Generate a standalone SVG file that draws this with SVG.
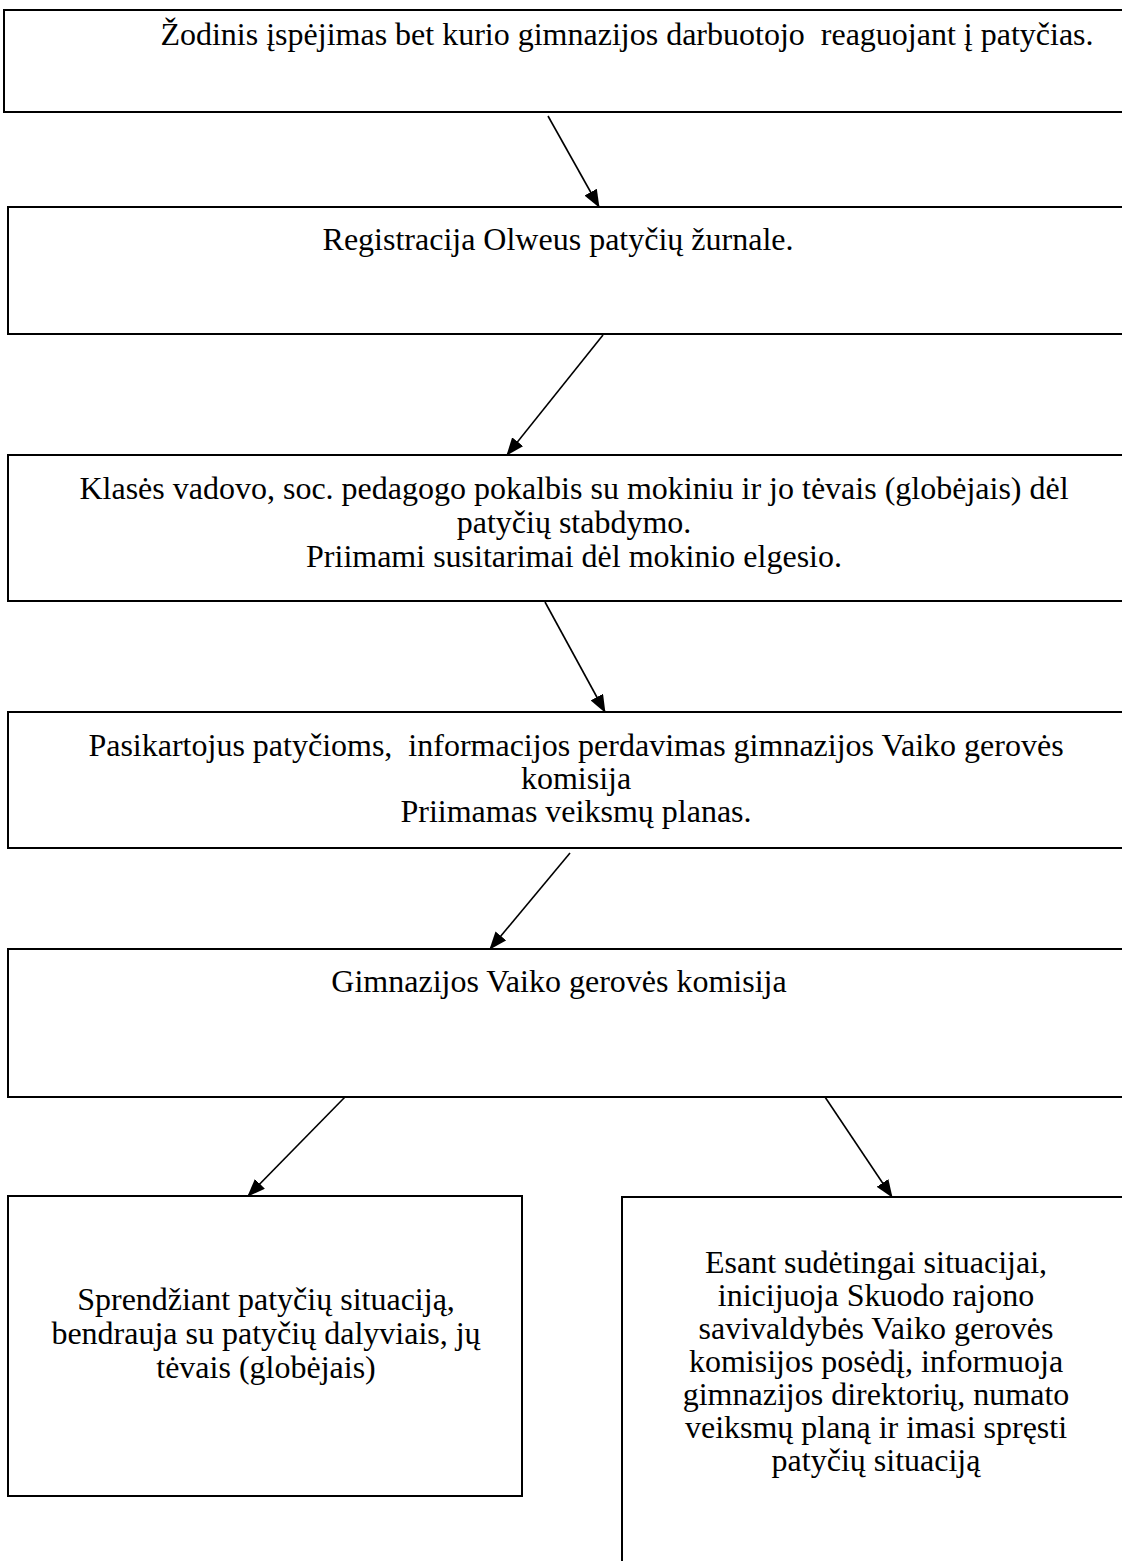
<svg xmlns="http://www.w3.org/2000/svg" width="1122" height="1561" viewBox="0 0 1122 1561">
<style>
.box{fill:#fff;stroke:#000;stroke-width:2}
.t{font-family:"Liberation Serif","Times New Roman",serif;font-size:32px;fill:#000;text-anchor:middle}
.c{stroke:#000;stroke-width:1.6;fill:none;marker-end:url(#ah)}
</style>
<defs>
<marker id="ah" markerUnits="userSpaceOnUse" markerWidth="18" markerHeight="14" refX="17" refY="7" orient="auto" viewBox="0 0 18 14">
<path d="M0,0 L18,7 L0,14 Z" fill="#000"/>
</marker>
</defs>
<rect width="1122" height="1561" fill="#fff"/>
<g id="n1"><rect class="box" x="4" y="10" width="1130" height="102"/>
<text class="t" x="627" y="45" xml:space="preserve">Žodinis įspėjimas bet kurio gimnazijos darbuotojo  reaguojant į patyčias.</text></g>
<g id="n2"><rect class="box" x="8" y="207" width="1130" height="127"/>
<text class="t" x="558" y="250">Registracija Olweus patyčių žurnale.</text></g>
<g id="n3"><rect class="box" x="8" y="455" width="1130" height="146"/>
<text class="t" x="574" y="499">Klasės vadovo, soc. pedagogo pokalbis su mokiniu ir jo tėvais (globėjais) dėl</text>
<text class="t" x="574" y="533">patyčių stabdymo.</text>
<text class="t" x="574" y="567">Priimami susitarimai dėl mokinio elgesio.</text></g>
<g id="n4"><rect class="box" x="8" y="712" width="1130" height="136"/>
<text class="t" x="576" y="756" xml:space="preserve">Pasikartojus patyčioms,  informacijos perdavimas gimnazijos Vaiko gerovės</text>
<text class="t" x="576" y="789">komisija</text>
<text class="t" x="576" y="822">Priimamas veiksmų planas.</text></g>
<g id="n5"><rect class="box" x="8" y="949" width="1130" height="148"/>
<text class="t" x="559" y="992">Gimnazijos Vaiko gerovės komisija</text></g>
<g id="n6"><rect class="box" x="8" y="1196" width="514" height="300"/>
<text class="t" x="266" y="1310">Sprendžiant patyčių situaciją,</text>
<text class="t" x="266" y="1344">bendrauja su patyčių dalyviais, jų</text>
<text class="t" x="266" y="1378">tėvais (globėjais)</text></g>
<g id="n7"><rect class="box" x="622" y="1197" width="520" height="400"/>
<text class="t" x="876" y="1273">Esant sudėtingai situacijai,</text>
<text class="t" x="876" y="1306">inicijuoja Skuodo rajono</text>
<text class="t" x="876" y="1339">savivaldybės Vaiko gerovės</text>
<text class="t" x="876" y="1372">komisijos posėdį, informuoja</text>
<text class="t" x="876" y="1405">gimnazijos direktorių, numato</text>
<text class="t" x="876" y="1438">veiksmų planą ir imasi spręsti</text>
<text class="t" x="876" y="1471">patyčių situaciją</text></g>
<g id="connectors">
<line class="c" x1="548" y1="116" x2="599" y2="207"/>
<line class="c" x1="603" y1="335" x2="507" y2="455"/>
<line class="c" x1="545" y1="602" x2="605" y2="712"/>
<line class="c" x1="570" y1="853" x2="490" y2="949"/>
<line class="c" x1="345" y1="1097" x2="248" y2="1196"/>
<line class="c" x1="825" y1="1097" x2="892" y2="1197"/>
</g>
</svg>
